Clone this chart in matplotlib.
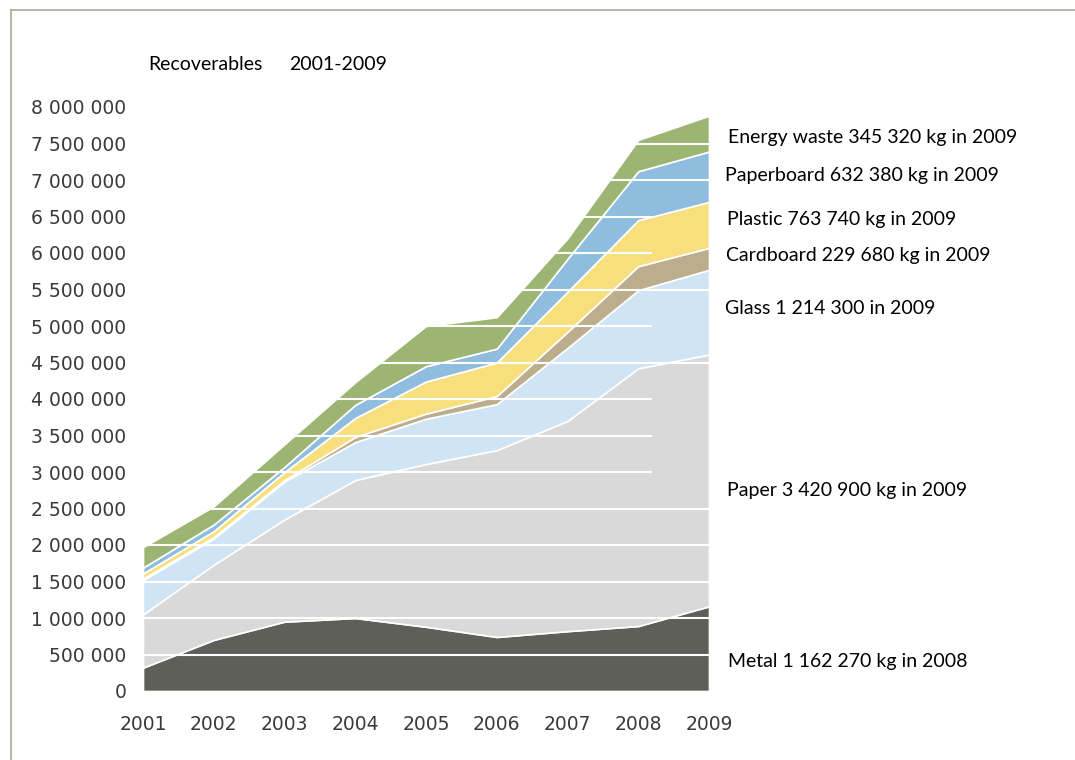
import matplotlib
matplotlib.use("Agg")
import matplotlib.pyplot as plt
from matplotlib.lines import Line2D

years = [2001, 2002, 2003, 2004, 2005, 2006, 2007, 2008, 2009]

# kg per year (stacked bottom to top)
metal      = [320000, 700000, 950000, 1000000, 880000, 740000, 820000, 890000, 1160000]
paper      = [730000, 1030000, 1400000, 1890000, 2230000, 2560000, 2880000, 3530000, 3450000]
glass      = [470000, 360000, 520000, 520000, 620000, 630000, 1000000, 1070000, 1160000]
cardboard  = [20000, 20000, 20000, 70000, 70000, 110000, 220000, 330000, 300000]
plastic    = [70000, 80000, 110000, 260000, 440000, 460000, 550000, 630000, 630000]
paperboard = [80000, 90000, 70000, 180000, 210000, 190000, 450000, 670000, 690000]
energy     = [280000, 250000, 310000, 310000, 550000, 430000, 280000, 430000, 490000]

series = [metal, paper, glass, cardboard, plastic, paperboard, energy]
colors = ["#5f5f5a", "#d9d9d9", "#cfe4f4", "#bcad8c", "#f8df7e", "#8fbde0", "#9cb572"]

labels = [
    "Energy waste 345 320 kg in 2009",
    "Paperboard 632 380 kg in 2009",
    "Plastic 763 740 kg in 2009",
    "Cardboard 229 680 kg in 2009",
    "Glass 1 214 300 in 2009",
    "Paper 3 420 900 kg in 2009",
    "Metal 1 162 270 kg in 2008",
]
label_y = [137, 175, 220, 256, 309, 491, 662]
label_x = [728, 725, 727, 726, 725, 727, 728]

yticks = list(range(0, 8000001, 500000))
# gridlines that stop short before 2009 in the original
short_grid = [3000000, 3500000, 4000000, 5000000, 6000000, 6500000]

W, H = 1075, 760
fig = plt.figure(figsize=(W / 100, H / 100), dpi=100)
ax = fig.add_axes([143 / W, (H - 691) / H, (709 - 143) / W, (691 - 107) / H])

ax.stackplot(years, *series, colors=colors, edgecolor="white", linewidth=1.2)

for v in yticks[1:]:
    xend = 2008.2 if v in short_grid else 2009
    ax.hlines(v, 2001, xend, colors="white", linewidth=1.5, zorder=3)

ax.set_xlim(2001, 2009)
ax.set_ylim(0, 8000000)
ax.set_xticks(years)
ax.set_xticklabels([str(y) for y in years])
ax.set_yticks(yticks)
ax.set_yticklabels([f"{v:,}".replace(",", " ") for v in yticks])
ax.tick_params(axis="both", length=0, labelsize=13.5, colors="#3a3a3a")
ax.tick_params(axis="y", pad=12)
ax.tick_params(axis="x", pad=17)
for s in ax.spines.values():
    s.set_visible(False)

for txt, x, y in zip(labels, label_x, label_y):
    fig.text(x / W, 1 - y / H, txt, family="Lato", fontsize=14, color="black",
             ha="left", va="center")

fig.text(148 / W, 1 - 64 / H, "Recoverables", family="Lato", fontsize=14,
         ha="left", va="center")
fig.text(289 / W, 1 - 64 / H, "2001-2009", family="Lato", fontsize=14,
         ha="left", va="center")

# thin frame at top and left edge
fig.add_artist(Line2D([11 / W, 1], [1 - 10 / H, 1 - 10 / H], color="#a9a99a", lw=1.2))
fig.add_artist(Line2D([11 / W, 11 / W], [0, 1 - 10 / H], color="#a9a99a", lw=1.2))

fig.savefig("out.png", dpi=100)
